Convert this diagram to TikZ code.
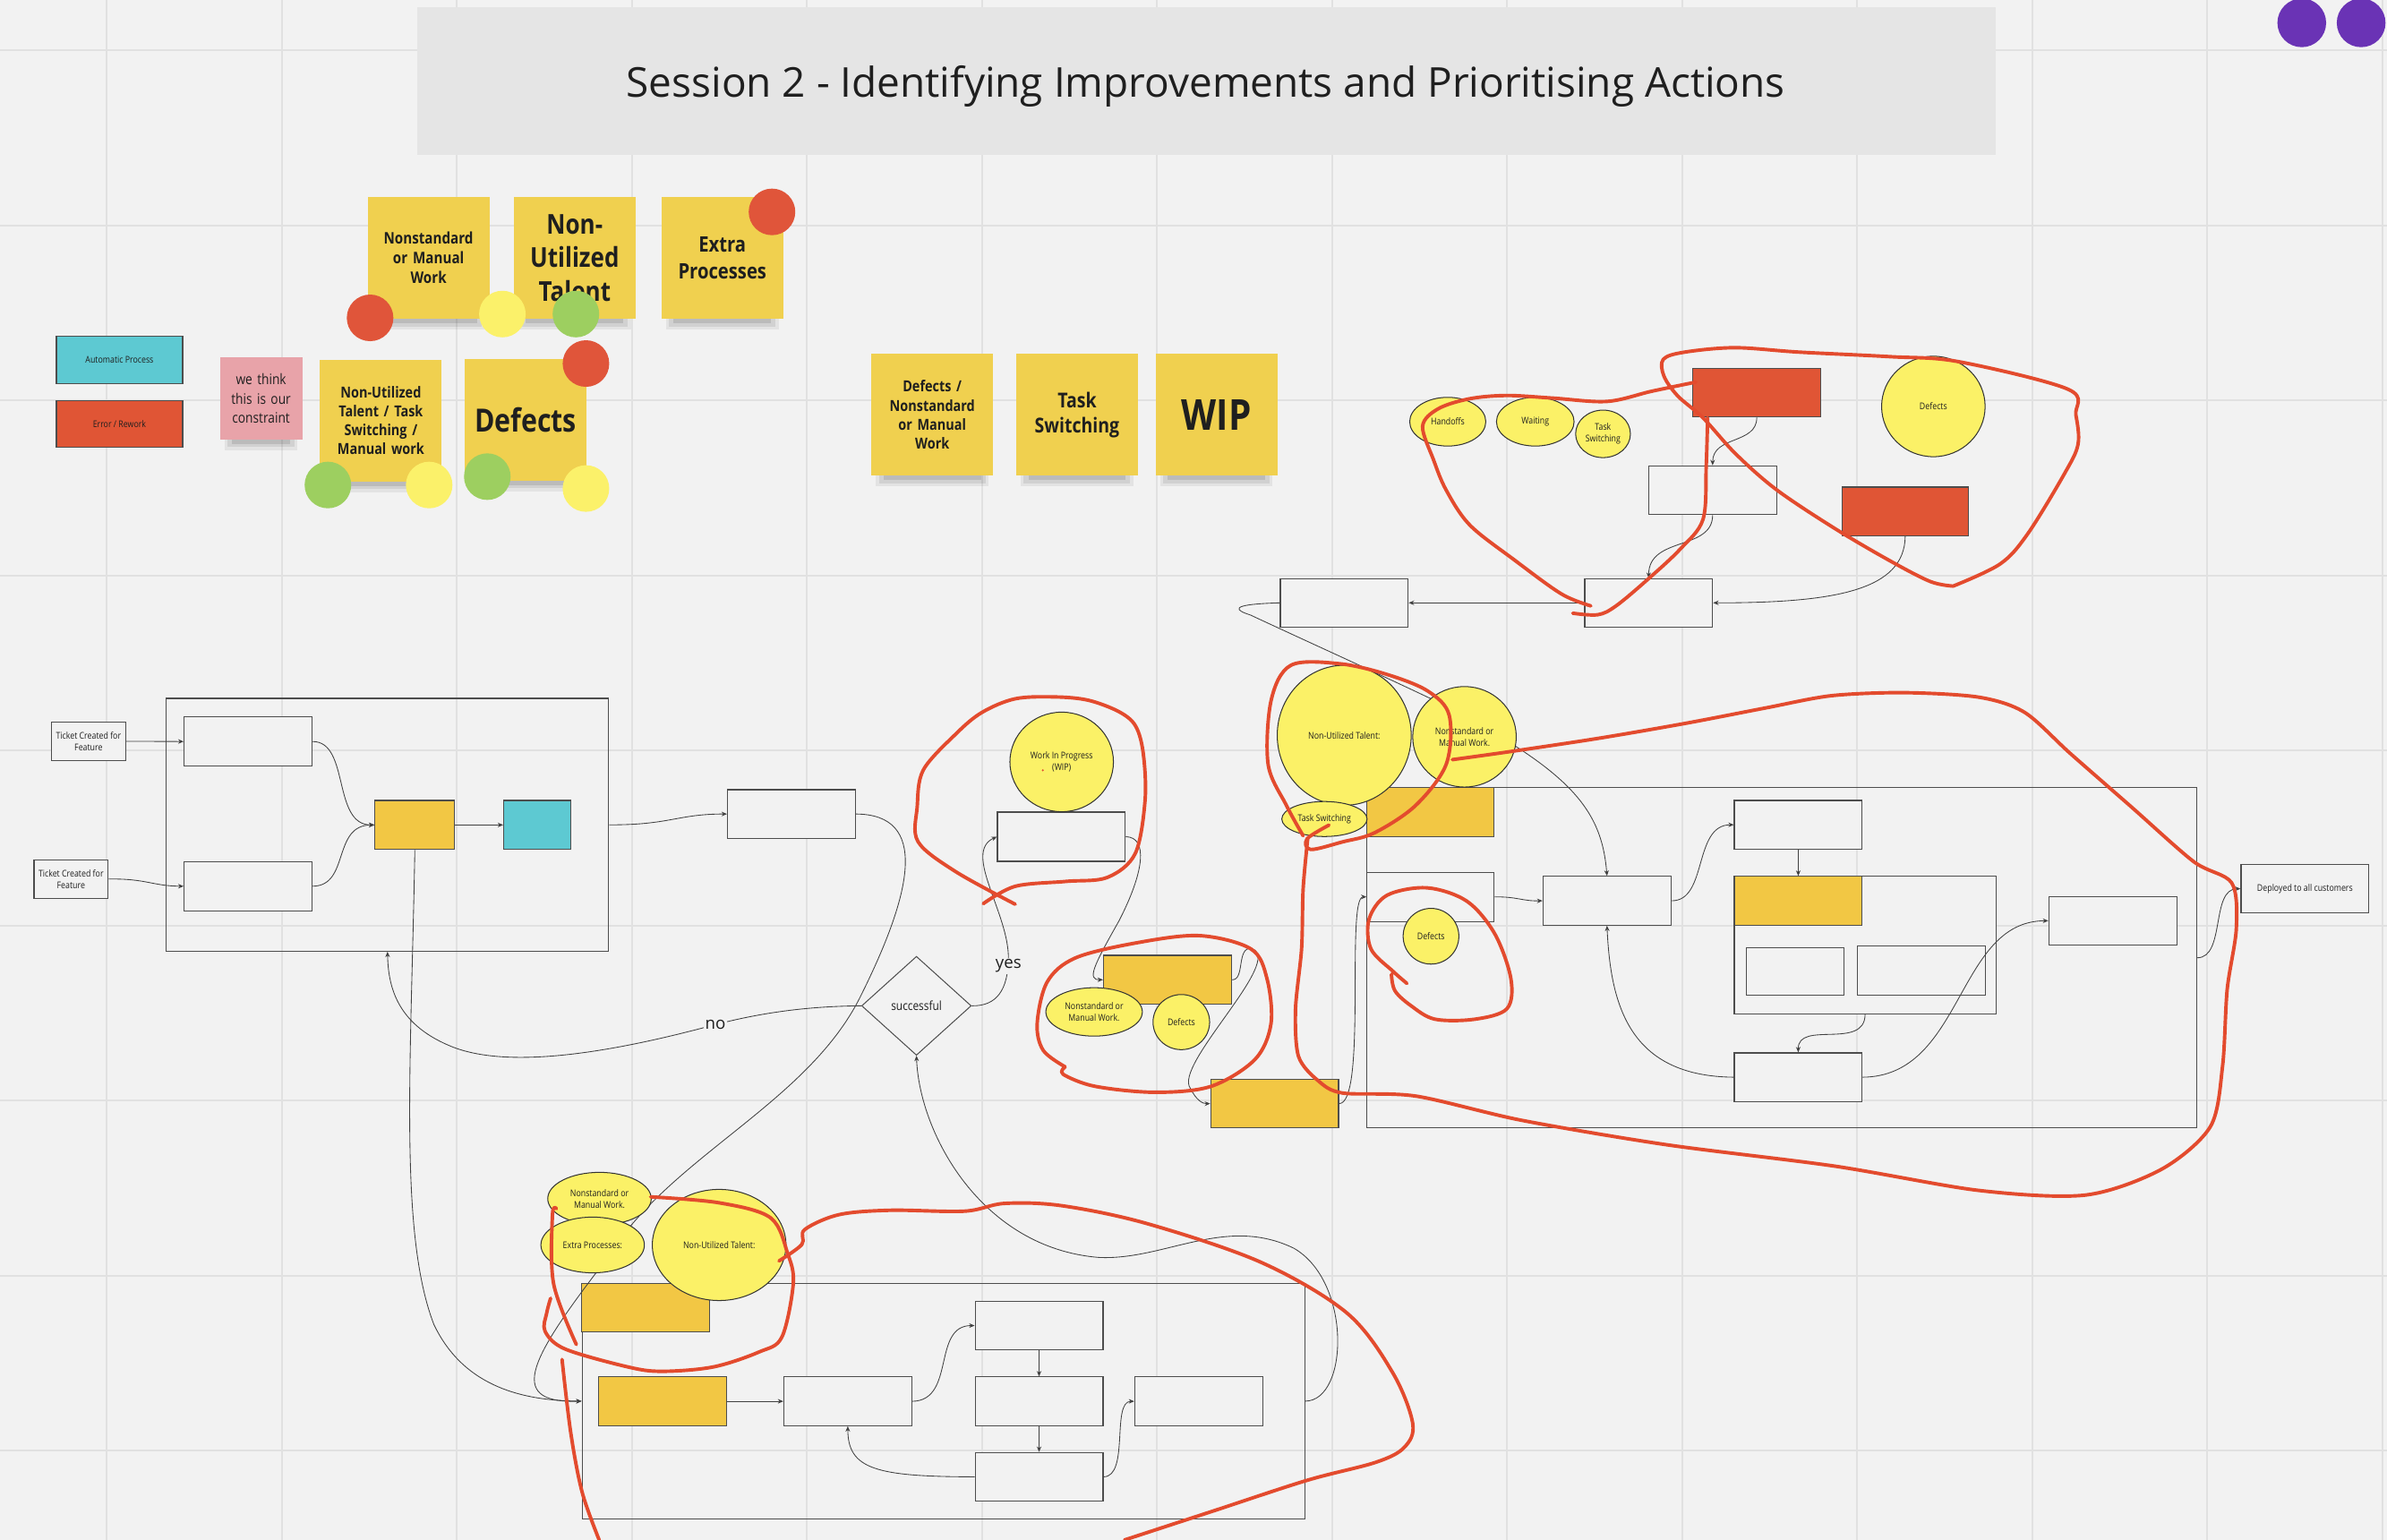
\documentclass[tikz,border=0pt]{standalone}
\usepackage{fontspec}
\setmainfont{Open Sans}
\newfontfamily\cond[FakeStretch=0.85]{Open Sans}
\usetikzlibrary{shapes.geometric,arrows.meta}
\definecolor{bg}{HTML}{F2F2F2}
\definecolor{gridc}{HTML}{E1E1E1}
\definecolor{titlef}{HTML}{E5E5E5}
\definecolor{stickyf}{HTML}{F0D04F}
\definecolor{pinkf}{HTML}{E8A3A9}
\definecolor{orangef}{HTML}{F2C744}
\definecolor{ellf}{HTML}{FBF167}
\definecolor{redf}{HTML}{E05535}
\definecolor{cyanf}{HTML}{5DC9D2}
\definecolor{redl}{HTML}{E34B2E}
\definecolor{dred}{HTML}{E0553A}
\definecolor{dyel}{HTML}{FBF16A}
\definecolor{dgrn}{HTML}{9DCF60}
\definecolor{purp}{HTML}{6A33B5}
\definecolor{boxc}{HTML}{4D4D4D}
\definecolor{connc}{HTML}{404040}
\definecolor{txt}{HTML}{1F1F1F}
\newcommand\myshadow[3]{%
  \fill[black,opacity=0.06] (#1-#3+3,#2+#3-3) rectangle (#1+#3-3,#2+#3+7);
  \fill[black,opacity=0.08] (#1-#3+5,#2+#3-2) rectangle (#1+#3-5,#2+#3+5);
  \fill[black,opacity=0.10] (#1-#3+8,#2+#3-1) rectangle (#1+#3-8,#2+#3+3);}
\newcommand\mystick[6]{%
  \myshadow{#2}{#3}{40}
  \node[sticky,#6,font=#4] (#1) at (#2,#3) {#5};}
\begin{document}
\begin{tikzpicture}[x=1pt,y=-1pt,
  box/.style={draw=boxc,line width=0.7pt,fill=bg,inner sep=0pt,minimum width=84pt,minimum height=32pt},
  obox/.style={box,fill=orangef},
  rbox/.style={box,fill=redf},
  frame/.style={draw=boxc,line width=0.7pt,inner sep=0pt},
  ell/.style={ellipse,draw=black!80,line width=0.6pt,fill=ellf,inner sep=0pt,align=center,text=txt,font=\cond\fontsize{6.1}{7.8}\selectfont},
  conn/.style={draw=connc,line width=0.5pt},
  arr/.style={conn,-{Stealth[length=3.6pt,width=3pt]}},
  sticky/.style={fill=stickyf,inner sep=0pt,minimum width=80pt,minimum height=80pt,text width=76pt,align=center,text=txt},
  dot/.style={circle,inner sep=0pt,minimum size=30.6pt},
  redline/.style={draw=redl,line width=2.3pt,line cap=round,line join=round},
  small/.style={font=\cond\fontsize{6.1}{7.8}\selectfont,text=txt,align=center}
]
\useasboundingbox (0,0) rectangle (1568,1011.6);
\fill[bg] (0,0) rectangle (1568,1011.6);
\foreach \x in {70,185,...,1565} \draw[gridc,line width=1.2pt] (\x,0) -- (\x,1011.6);
\foreach \y in {33,148,...,953} \draw[gridc,line width=1.2pt] (0,\y) -- (1568,\y);

% title
\node[fill=titlef,minimum width=1037pt,minimum height=97pt,inner sep=0pt] (title) at (792.5,53.5) {};
\node[text=txt,font=\fontsize{27}{32}\selectfont] (titletext) at (792,56.5) {Session 2 - Identifying Improvements and Prioritising Actions};
\node[dot,fill=purp,minimum size=32pt] (pu1) at (1512,15) {};
\node[dot,fill=purp,minimum size=32pt] (pu2) at (1551,15) {};

% legend
\node[box,fill=cyanf,minimum width=83pt,minimum height=31pt,small] (leg1) at (78.5,236.5) {Automatic Process};
\node[box,fill=redf,minimum width=83pt,minimum height=31pt,small] (leg2) at (78.5,278.5) {Error / Rework};

% sticky notes
\mystick{s1}{281.5}{169.5}{\cond\bfseries\fontsize{10.5}{13}\selectfont}{Nonstandard\\or Manual\\Work}{}
\mystick{s2}{377.5}{169.5}{\cond\bfseries\fontsize{18}{22.3}\selectfont}{Non-\\Utilized\\Talent}{}
\mystick{s3}{474.5}{169.5}{\cond\bfseries\fontsize{14}{17.6}\selectfont}{Extra\\Processes}{}
\mystick{s4}{250.2}{276.2}{\cond\bfseries\fontsize{10}{12.5}\selectfont}{Non-Utilized\\Talent / Task\\Switching /\\Manual work}{}
\mystick{s5}{345.3}{275.7}{\cond\bfseries\fontsize{21}{24}\selectfont}{Defects}{}
\myshadow{171.5}{261.7}{27}
\node[sticky,fill=pinkf,minimum width=54pt,minimum height=54pt,text width=52pt,font=\cond\fontsize{9.5}{12.4}\selectfont] (s6) at (171.5,261.7) {we think\\this is our\\constraint};
\mystick{s7}{612.4}{272.5}{\cond\bfseries\fontsize{10}{12.6}\selectfont}{Defects /\\Nonstandard\\or Manual\\Work}{}
\mystick{s8}{707.5}{272.5}{\cond\bfseries\fontsize{13.5}{16.7}\selectfont}{Task\\Switching}{}
\mystick{s9}{799}{272.5}{\cond\bfseries\fontsize{28}{30}\selectfont}{WIP}{}

% voting dots
\node[dot,fill=dred] (d1) at (243.1,208.8) {};
\node[dot,fill=dyel] (d2) at (330,206.3) {};
\node[dot,fill=dgrn] (d3) at (378.3,206.3) {};
\node[dot,fill=dred] (d4) at (507.1,139.2) {};
\node[dot,fill=dred] (d5) at (384.9,238.8) {};
\node[dot,fill=dgrn] (d6) at (215.4,318.6) {};
\node[dot,fill=dyel] (d7) at (281.9,318.6) {};
\node[dot,fill=dgrn] (d8) at (320.1,313.1) {};
\node[dot,fill=dyel] (d9) at (384.9,320.9) {};

% ---------- containers ----------
\node[frame,minimum width=290.5pt,minimum height=166pt] (contL) at (254.55,541.8) {};
\node[frame,minimum width=545pt,minimum height=223.3pt] (contR) at (1170.5,629.15) {};
\node[frame,minimum width=474.7pt,minimum height=154.8pt] (contB) at (619.75,920.4) {};

% ---------- top-right cluster ----------
\node[rbox] (tr1) at (1154,258) {};
\node[box] (tw1) at (1125,322) {};
\node[rbox,minimum width=83pt] (tr2) at (1251.5,336) {};
\node[box] (tw2) at (1083,396) {};
\node[box] (tw3) at (883,396) {};

% ---------- left cluster ----------
\node[box,minimum width=48.7pt,minimum height=25.1pt,small] (t1) at (58.15,486.95) {Ticket Created for\\Feature};
\node[box,minimum width=48.7pt,minimum height=25.1pt,small] (t2) at (46.65,577.45) {Ticket Created for\\Feature};
\node[box,minimum height=32.4pt] (ra) at (162.95,487.1) {};
\node[box,minimum height=32.4pt] (rb) at (162.95,582.15) {};
\node[obox,minimum width=52.4pt,minimum height=32.2pt] (osq) at (272.5,541.9) {};
\node[box,fill=cyanf,minimum width=44.1pt,minimum height=32.2pt] (csq) at (352.95,541.9) {};
\node[box] (rc) at (519.9,534.7) {};

% ---------- middle cluster ----------
\node[box,minimum height=32.4pt] (wipr) at (697.2,549.6) {};
\node[diamond,draw=boxc,line width=0.6pt,fill=bg,inner sep=0pt,minimum width=72pt,minimum height=65pt,text=txt,font=\cond\fontsize{8.2}{9}\selectfont] (dia) at (602,660.7) {successful};
\node[obox] (omid) at (766.9,643.6) {};
\node[obox] (olow) at (837.3,724.95) {};

% ---------- right container contents ----------
\node[obox,minimum width=83.5pt] (ro1) at (939.75,533.5) {};
\node[box,minimum width=83.5pt,minimum height=32.3pt] (rtl) at (939.75,589.15) {};
\node[box] (rmid) at (1055.6,591.7) {};
\node[box] (rtop) at (1181.25,541.8) {};
\node[box,minimum width=171.9pt,minimum height=90.4pt] (grp) at (1225.15,620.8) {};
\node[obox] (yin) at (1181.25,591.7) {};
\node[box,minimum width=64.1pt,minimum height=31.3pt] (sm1) at (1179.35,638.05) {};
\node[box,minimum height=32.2pt] (sm2) at (1262,637.6) {};
\node[box] (rright) at (1387.85,604.85) {};
\node[box] (rbot) at (1181.25,707.6) {};
\node[box,small] (dep) at (1514.1,583.8) {Deployed to all customers};

% ---------- bottom container contents ----------
\node[obox] (ob1) at (424.2,859.05) {};
\node[obox] (ob2) at (435.4,920.5) {};
\node[box] (ba) at (556.9,920.5) {};
\node[box] (btop) at (682.55,870.75) {};
\node[box] (bmid) at (682.55,920.5) {};
\node[box] (bbot) at (682.55,970.1) {};
\node[box] (bright) at (787.4,920.5) {};

% ---------- connectors ----------
% top right
\draw[arr] (tr1.south) .. controls (1154,292) and (1125,286) .. (tw1.north);
\draw[arr] (tw1.south) .. controls (1125,362) and (1083,352) .. (tw2.north);
\draw[arr] (tr2.south) .. controls (1251,388) and (1205,396) .. (tw2.east);
\draw[arr] (tw2.west) -- (tw3.east);
\draw[arr] (tw3.west) .. controls (805,397) and (812,401) .. (821.4,404) .. controls (860,422) and (900,440) .. (940,459) .. controls (1030,505) and (1052,530) .. (rmid.north);
% left
\draw[arr] (t1.east) -- (ra.west);
\draw[arr] (t2.east) .. controls (96,577) and (100,582) .. (rb.west);
\draw[arr] (ra.east) .. controls (230,487) and (218,542) .. (osq.west);
\draw[arr] (rb.east) .. controls (230,582) and (218,542) .. (osq.west);
\draw[arr] (osq.east) -- (csq.west);
\draw[arr] (contL.east) .. controls (440,542) and (445,534.7) .. (rc.west);
\draw[arr] (rc.east) .. controls (610,535) and (600,585) .. (565,655) .. controls (530,725) and (440,760) .. (400,825) .. controls (350,890) and (330,922) .. (contB.west);
\draw[arr] (osq.south) .. controls (270,700) and (262,810) .. (285,870) .. controls (305,912) and (345,920) .. (contB.west);
% middle
\draw[arr] (dia.east) .. controls (655,661) and (662,650) .. (662.4,630) .. controls (663,600) and (632,560) .. (wipr.west);
\draw[arr] (wipr.east) .. controls (754,550) and (752,572) .. (735,605) .. controls (718,635) and (714,643.6) .. (omid.west);
\draw[arr] (omid.east) .. controls (818,644) and (812,622) .. (822,623) .. controls (845,630) and (770,700) .. (782,715) .. controls (786,723) and (790,725) .. (olow.west);
\draw[arr] (dia.west) .. controls (535,661) and (505,664) .. (470,673) .. controls (400,692) and (335,702) .. (298,688) .. controls (262,674) and (255,650) .. (contL.south);
\draw[arr] (contB.east) .. controls (886,920) and (888,842) .. (850,820) .. controls (805,798) and (765,828) .. (722,826) .. controls (645,820) and (604,745) .. (dia.south);
\node[fill=bg,inner sep=1pt,text=txt,font=\fontsize{11}{12}\selectfont] (yes) at (662.4,634.5) {yes};
\node[fill=bg,inner sep=1pt,text=txt,font=\fontsize{11}{12}\selectfont] (no) at (470,673) {no};
% right container
\draw[arr] (olow.east) .. controls (898,725) and (884,589.15) .. (rtl.west);
\draw[arr] (rtl.east) .. controls (997,589) and (1000,592) .. (rmid.west);
\draw[arr] (rmid.east) .. controls (1122,592) and (1112,541.8) .. (rtop.west);
\draw[arr] (rtop.south) -- (yin.north);
\draw[arr] (grp.south) .. controls (1225,690) and (1181,670) .. (rbot.north);
\draw[arr] (rbot.west) .. controls (1070,707) and (1058,660) .. (rmid.south);
\draw[arr] (rbot.east) .. controls (1290,707) and (1285,604.85) .. (rright.west);
\draw[arr] (contR.east) .. controls (1462,629) and (1452,583.8) .. (dep.west);
% bottom container
\draw[arr] (ob2.east) -- (ba.west);
\draw[arr] (ba.east) .. controls (628,920) and (612,870.75) .. (btop.west);
\draw[arr] (btop.south) -- (bmid.north);
\draw[arr] (bmid.south) -- (bbot.north);
\draw[arr] (bbot.west) .. controls (575,970) and (557,965) .. (ba.south);
\draw[arr] (bbot.east) .. controls (742,970) and (730,920.5) .. (bright.west);

% ---------- ellipses ----------
\node[ell,minimum width=50pt,minimum height=32pt] (e1) at (951,277) {Handoffs};
\node[ell,minimum width=51pt,minimum height=32pt] (e2) at (1008.5,277) {Waiting};
\node[ell,minimum width=36pt,minimum height=31.2pt] (e3) at (1053,285) {Task\\Switching};
\node[ell,minimum width=68pt,minimum height=66pt] (e4) at (1270,267) {Defects};
\node[ell,minimum width=68pt,minimum height=65.4pt] (e5) at (697.4,500.5) {Work In Progress\\(WIP)};
\fill[redl] (685,506) circle (0.7);
\node[ell,minimum width=63.4pt,minimum height=31.8pt] (e6) at (718.7,664.7) {Nonstandard or\\Manual Work.};
\node[ell,minimum width=37.2pt,minimum height=36.2pt] (e7) at (776,671.4) {Defects};
\node[ell,minimum width=88pt,minimum height=92pt] (e8) at (883,483) {Non-Utilized Talent:};
\node[ell,minimum width=68pt,minimum height=66pt] (e9) at (962,484) {Nonstandard or\\Manual Work.};
\node[ell,minimum width=56pt,minimum height=23pt] (e10) at (870,538) {Task Switching};
\node[ell,minimum width=36.6pt,minimum height=36.6pt] (e11) at (940,615) {Defects};
\node[ell,minimum width=68pt,minimum height=34.6pt] (e12) at (393.8,787.4) {Nonstandard or\\Manual Work.};
\node[ell,minimum width=68pt,minimum height=36.6pt] (e13) at (389.3,817.8) {Extra Processes:};
\node[ell,minimum width=87.8pt,minimum height=73pt] (e14) at (472.4,817.8) {Non-Utilized Talent:};

% ---------- red hand-drawn annotations ----------
\draw[redline] plot[smooth,tension=0.55] coordinates {(1045,398) (1025.6,390.1) (995,368) (965.6,345) (950,322) (941.6,301.9) (934.5,280) (944.6,268.6) (965,262) (989.6,259.8) (1020,261.5) (1055.6,263.7) (1085,257) (1114,251)};
\draw[redline] plot[smooth,tension=0.55] coordinates {(1283,385) (1313.8,370.5) (1331.8,350.9) (1355.8,311.7) (1365,292) (1363.6,272.5) (1358.7,255.8) (1286.7,237.6) (1241.7,234.3) (1181.7,231.3) (1139.7,228.4) (1106.7,231.3) (1092.6,236) (1093,247) (1102,260) (1118.7,274.5) (1140,298) (1166.7,321.5) (1205,347) (1241.7,368.5) (1268,382) (1283,385)};
\draw[redline] plot[smooth,tension=0.55] coordinates {(1121.7,274.5) (1120.8,305.8) (1118.7,341.1) (1103.7,360.7) (1082.7,380.3) (1061.7,397.9) (1049.6,403.8) (1033.1,402.8)};
% WIP loop
\draw[redline] plot[smooth,tension=0.55] coordinates {(645.9,593.6) (666.9,582.2) (700,579) (727.3,576.4) (745.7,560.7) (752.2,525.4) (751,495) (746,477) (735.2,467.6) (715,460) (693.1,457.8) (666.9,459) (645,468) (628,482) (606.5,505.8) (602.5,530) (603,552.8) (627.5,572.4) (666.9,594)};
% middle loop
\draw[redline] plot[smooth,tension=0.55] coordinates {(699.7,700.8) (698.4,705.7) (719.4,713.6) (758.8,717.5) (795.5,713.6) (824.4,695.9) (834.9,672.4) (832.3,643) (821.8,623.4) (787.7,614.6) (745.7,619.5) (706.3,629.3) (687.9,645) (681.3,672.4) (685.3,690) (699.7,700.8)};
% loop around non-utilized talent
\draw[redline] plot[smooth,tension=0.55] coordinates {(873,542) (858.6,551) (861,558) (882,553) (903,547) (930,529) (950,502) (952,470) (938,454) (911,443) (880,436) (848,437) (835,460) (833,502) (845,529) (856,549)};
% big right loop
\draw[redline] plot[smooth,tension=0.5] coordinates {(954,499) (990,494) (1050,485) (1108,475) (1160,465) (1203,457) (1251,455) (1300,458) (1330,468) (1360,495) (1400,530) (1441,566) (1466,580) (1469,610) (1463,650) (1460,700) (1452,740) (1420,768) (1370,785) (1300,782) (1205,766) (1095,752) (1000,736) (930,720) (882,718) (866,710) (853,694) (851,663) (855,623) (856,584) (859,551)};
% defects loop
\draw[redline] plot[smooth,tension=0.55] coordinates {(924.2,646) (915,638) (900.6,623.4) (899.3,603.8) (911.1,588.1) (937.4,583.2) (963.6,592) (982,613.6) (992.5,643) (989.9,662.6) (968.9,669.5) (942.6,669.5) (926.8,660.6) (916.3,650.8) (914,640)};
% bottom loops
\draw[redline] plot[smooth,tension=0.55] coordinates {(511.7,828.3) (526.7,817.5) (528.6,807.7) (551.1,797.9) (584.9,795) (633.6,795.6) (659.9,790.5) (697.4,792) (753.6,803.8) (828.6,829.3) (884.9,862.6) (914.9,901.8) (928,935.1) (922.4,950.8) (903.6,960.6) (858.6,972.4) (798.6,992) (738.6,1011.6)};
\draw[redline] plot[smooth,tension=0.55] coordinates {(427.4,786.2) (472.4,790.1) (506.1,799.9) (517.4,823.4) (521.1,843) (513.6,878.3) (498.6,888.1) (468.6,897.9) (434.9,900.8) (412.4,897.9) (371.1,886.1) (358,874.4) (359.1,862.6) (361.7,852.8)};
\draw[redline] plot[smooth,tension=0.55] coordinates {(378.6,883.2) (363.6,843) (362.9,797.9) (365.5,794)};
\draw[redline] plot[smooth,tension=0.55] coordinates {(369.2,893) (374.9,941) (382.4,980.2) (393.6,1011.6)};
\end{tikzpicture}
\end{document}
